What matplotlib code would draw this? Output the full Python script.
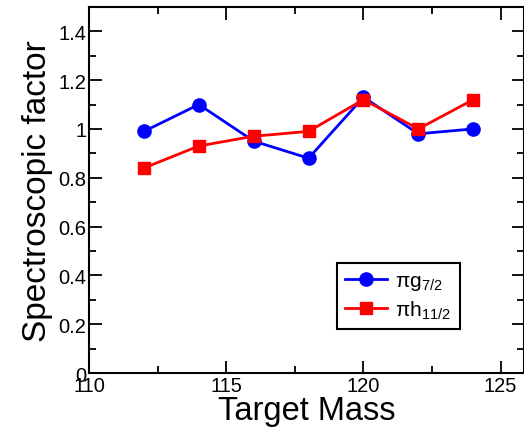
import matplotlib
matplotlib.use("Agg")
import matplotlib.pyplot as plt
from matplotlib.ticker import MultipleLocator, FixedLocator

plt.rcParams['font.family'] = ['Liberation Sans', 'DejaVu Sans']
plt.rcParams['mathtext.fontset'] = 'custom'
plt.rcParams['mathtext.rm'] = 'Liberation Sans'
plt.rcParams['mathtext.it'] = 'Liberation Sans'

# data
target_mass = [112, 114, 116, 118, 120, 122, 124]
sf_g72 = [0.99, 1.10, 0.95, 0.88, 1.13, 0.98, 1.00]
sf_h112 = [0.84, 0.93, 0.97, 0.99, 1.12, 1.00, 1.12]
y_ticks = [0, 0.2, 0.4, 0.6, 0.8, 1.0, 1.2, 1.4]
y_labels = ["0", "0.2", "0.4", "0.6", "0.8", "1", "1.2", "1.4"]

fig = plt.figure(figsize=(5.24, 4.35), dpi=100)
ax = fig.add_axes([0.170, 0.140, 0.830, 0.842])

ax.plot(target_mass, sf_g72, color="blue", marker="o", markersize=9.5, lw=2,
        label=r"$\pi$g$_{7/2}$")
ax.plot(target_mass, sf_h112, color="red", marker="s", markersize=8, lw=2,
        label=r"$\pi$h$_{11/2}$")

ax.set_xlim(110, 125.85)
ax.set_ylim(0, 1.5)
ax.xaxis.set_major_locator(MultipleLocator(5))
ax.xaxis.set_minor_locator(MultipleLocator(2.5))
ax.yaxis.set_major_locator(FixedLocator(y_ticks))
ax.set_yticklabels(y_labels)
ax.yaxis.set_minor_locator(MultipleLocator(0.1))
ax.tick_params(which="both", direction="in", top=True, right=True, width=1.3,
               labelsize=14.5, pad=2)
ax.tick_params(which="major", length=9)
ax.tick_params(which="minor", length=5)
for s in ax.spines.values():
    s.set_linewidth(1.5)

ax.set_xlabel("Target Mass", fontsize=23.5, labelpad=0)
ax.set_ylabel("Spectroscopic factor", fontsize=24, labelpad=4)

leg = ax.legend(loc="lower right", bbox_to_anchor=(0.852, 0.12), fontsize=15,
                fancybox=False, edgecolor="black", framealpha=1,
                handlelength=2.0, handletextpad=0.4, borderpad=0.4,
                labelspacing=0.3, borderaxespad=0)
leg.get_frame().set_linewidth(1.5)

fig.savefig("out.png", dpi=100)
